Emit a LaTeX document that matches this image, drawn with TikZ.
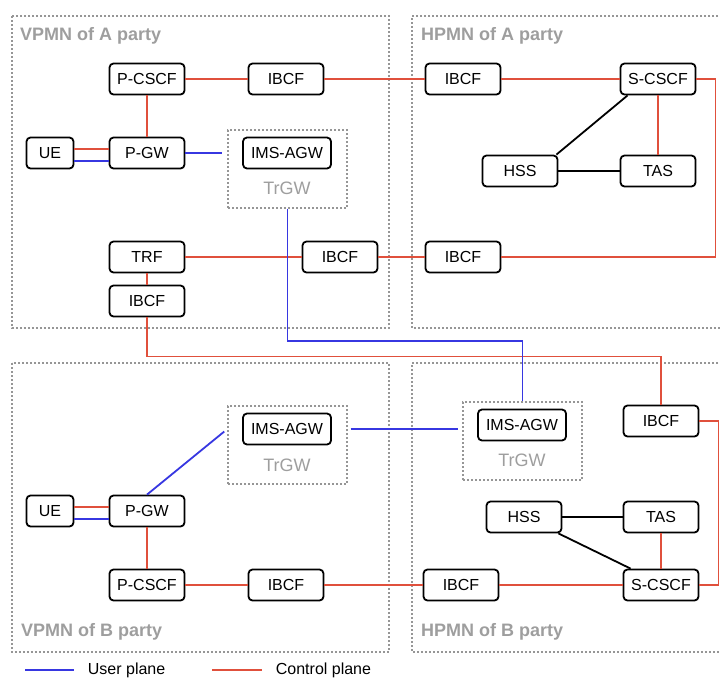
\documentclass[tikz,border=0pt]{standalone}
\usepackage{fontspec}
\setmainfont{Liberation Sans}
\usepackage{tikz}
\usetikzlibrary{positioning}
\usepackage{xcolor}
\definecolor{ctrlred}{RGB}{224,80,60}
\definecolor{userblue}{RGB}{55,55,225}
\definecolor{dotgray}{RGB}{150,150,150}
\definecolor{labgray}{RGB}{158,158,158}
\tikzset{
  nf/.style={draw, line width=1.8pt, rounded corners=4pt, fill=white,
    minimum width=75pt, minimum height=31pt, inner sep=0pt,
    font=\fontsize{16}{18}\selectfont},
  net/.style={dotgray, line width=1.3pt, dash pattern=on 2pt off 2pt},
  gw/.style={net, draw, minimum width=119pt, minimum height=78pt},
  netlabel/.style={anchor=west, inner sep=0pt, text=labgray,
    font=\fontsize{18}{20}\selectfont\bfseries},
  gwlabel/.style={inner sep=0pt, text=labgray, font=\fontsize{18}{20}\selectfont},
  legend/.style={inner sep=0pt, text=black, font=\fontsize{16}{18}\selectfont},
  ctrl/.style={ctrlred, line width=1.8pt},
  user/.style={userblue, line width=1.8pt},
  hss/.style={black, line width=1.8pt}
}

\begin{document}
\begin{tikzpicture}[x=1pt,y=-1pt]
\useasboundingbox (0,0) rectangle (720,678);
% networks
\draw[net] (12,16) rectangle (389,328);
\draw[net] (722,16) -| (412,328) -- (722,328);
\draw[net] (12,363) rectangle (389,652);
\draw[net] (722,363) -| (412,652) -- (722,652);
\node[netlabel] (vpA) at (20,36) {VPMN of A party};
\node[netlabel] (hpA) at (421,36) {HPMN of A party};
\node[netlabel] (vpB) at (21,632) {VPMN of B party};
\node[netlabel] (hpB) at (421,632) {HPMN of B party};

% transit gateways
\node[gw] (trgwVA) at (287.5,169) {};
\node[gw] (trgwVB) at (287.5,445) {};
\node[gw] (trgwHB) at (522.5,441) {};
\node[gwlabel] at (287,188) {TrGW};
\node[gwlabel] at (287,465) {TrGW};
\node[gwlabel] at (522,460) {TrGW};

% VPMN of A party
\node[nf] (pcscfVA) at (147,79) {P-CSCF};
\node[nf] (ibcfVA) at (286,79) {IBCF};
\node[nf, minimum width=47pt] (ueVA) at (50,153) {UE};
\node[nf] (pgwVA) at (147,153) {P-GW};
\node[nf, minimum width=88pt] (imsVA) at (287,153) {IMS-AGW};
\node[nf] (trfVA) at (147,257) {TRF};
\node[nf] (ibcfVA2) at (340,257) {IBCF};
\node[nf] (ibcfVA3) at (147,301) {IBCF};

% HPMN of A party
\node[nf] (ibcfHA) at (463,79) {IBCF};
\node[nf] (scscfHA) at (658,79) {S-CSCF};
\node[nf] (hssHA) at (520,171) {HSS};
\node[nf] (tasHA) at (658,171) {TAS};
\node[nf] (ibcfHA2) at (463,257) {IBCF};

% VPMN of B party
\node[nf, minimum width=88pt] (imsVB) at (287,429) {IMS-AGW};
\node[nf, minimum width=47pt] (ueVB) at (50,511) {UE};
\node[nf] (pgwVB) at (147,511) {P-GW};
\node[nf] (pcscfVB) at (147,585) {P-CSCF};
\node[nf] (ibcfVB) at (286,585) {IBCF};

% HPMN of B party
\node[nf, minimum width=88pt] (imsHB) at (522,425) {IMS-AGW};
\node[nf] (ibcfHB) at (661,421) {IBCF};
\node[nf] (hssHB) at (524,517) {HSS};
\node[nf] (tasHB) at (661,517) {TAS};
\node[nf] (ibcfHB2) at (461,585) {IBCF};
\node[nf] (scscfHB) at (661,585) {S-CSCF};

% control plane
\draw[ctrl] (pcscfVA) -- (ibcfVA);
\draw[ctrl] (ibcfVA) -- (ibcfHA);
\draw[ctrl] (ibcfHA) -- (scscfHA);
\draw[ctrl] (pcscfVA) -- (pgwVA);
\draw[ctrl] ([yshift=4pt]ueVA.east) -- ([yshift=4pt]pgwVA.west);
\draw[ctrl] (scscfHA) -- (tasHA);
\draw[ctrl] (scscfHA.east) -- ++(19,0) |- (ibcfHA2.east);
\draw[ctrl] (trfVA) -- (ibcfVA2);
\draw[ctrl] (ibcfVA2) -- (ibcfHA2);
\draw[ctrl] (trfVA) -- (ibcfVA3);
\draw[ctrl] (ibcfVA3.south) -- ++(0,39) -| (ibcfHB.north);
\draw[ctrl] ([yshift=4pt]ueVB.east) -- ([yshift=4pt]pgwVB.west);
\draw[ctrl] (pgwVB) -- (pcscfVB);
\draw[ctrl] (pcscfVB) -- (ibcfVB);
\draw[ctrl] (ibcfVB) -- (ibcfHB2);
\draw[ctrl] (ibcfHB2) -- (scscfHB);
\draw[ctrl] (tasHB) -- (scscfHB);
\draw[ctrl] (ibcfHB.east) -- ++(19,0) |- (scscfHB.east);

% user plane
\draw[user] ([yshift=-8pt]ueVA.east) -- ([yshift=-8pt]pgwVA.west);
\draw[user, shorten >=5pt] (pgwVA) -- (pgwVA -| trgwVA.west);
\draw[user] (trgwVA.south) -- ++(0,132) -| (trgwHB.north);
\draw[user] ([yshift=-8pt]ueVB.east) -- ([yshift=-8pt]pgwVB.west);
\draw[user, shorten >=4pt] (pgwVB.north) -- (imsVB -| trgwVB.west);
\draw[user, shorten <=3pt, shorten >=4pt] (imsVB -| trgwVB.east) -- (imsVB -| trgwHB.west);

% HSS links
\draw[hss] ([xshift=8pt]scscfHA.south west) -- ([xshift=-2pt]hssHA.north east);
\draw[hss] (hssHA) -- (tasHA);
\draw[hss] (hssHB) -- (tasHB);
\draw[hss] ([xshift=-4pt]hssHB.south east) -- ([xshift=8pt]scscfHB.north west);

% legend
\coordinate (lgUser) at (25,670);
\coordinate (lgCtrl) at (212,670);
\draw[user] (lgUser) -- ++(49,0) node[legend, right=13pt] {User plane};
\draw[ctrl] (lgCtrl) -- ++(50,0) node[legend, right=13pt] {Control plane};
\end{tikzpicture}
\end{document}
